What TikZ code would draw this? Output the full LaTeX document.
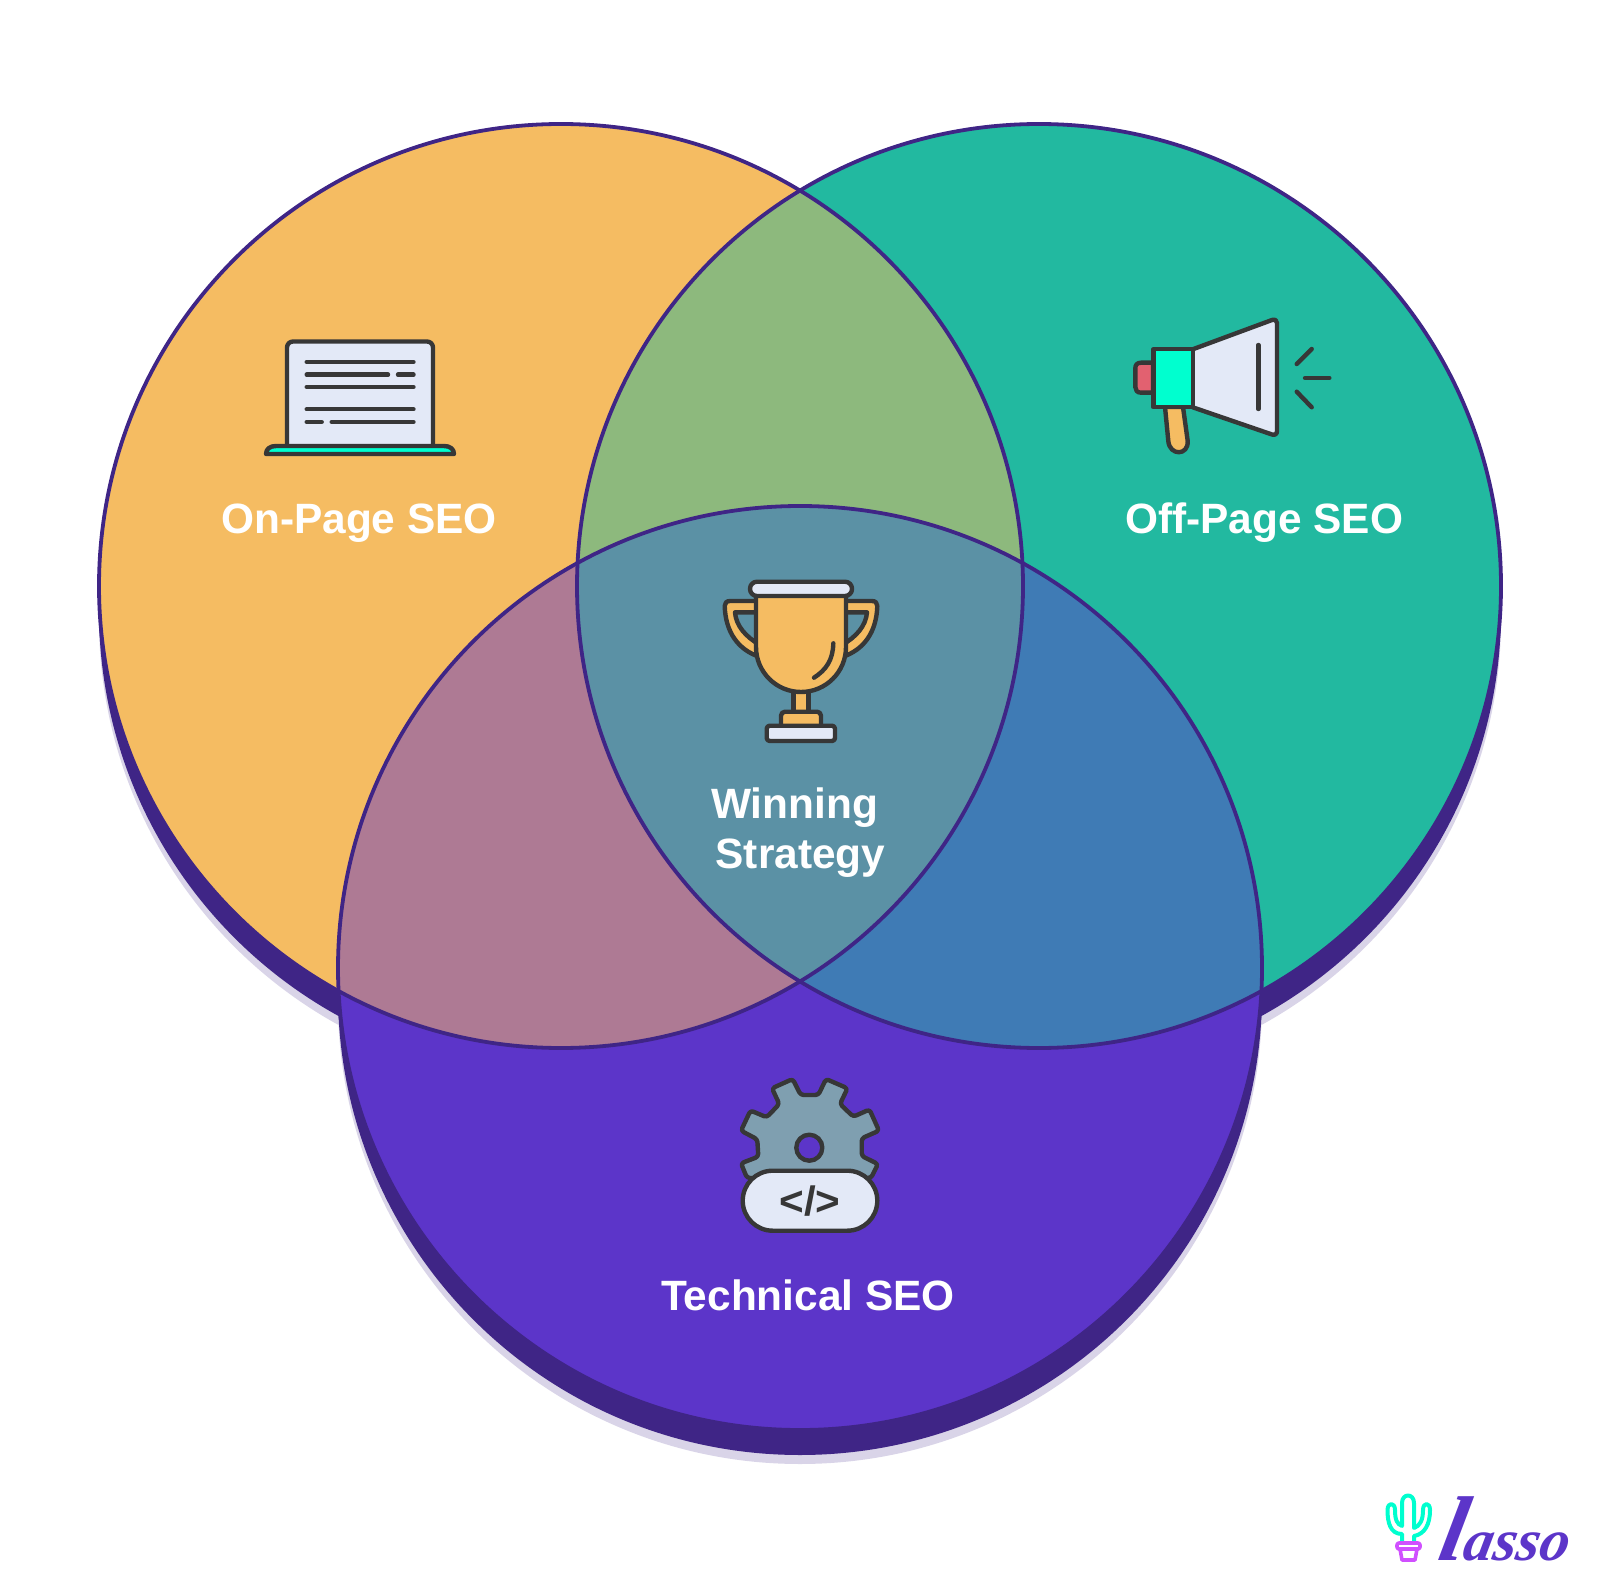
\documentclass[tikz,border=0pt]{standalone}
\usepackage{fontspec}
\setmainfont{Liberation Sans}
\newfontfamily\logofont{Liberation Serif}
\definecolor{cOrange}{HTML}{F5BC62}
\definecolor{cTeal}{HTML}{22B9A0}
\definecolor{cPurple}{HTML}{5C35C9}
\definecolor{cDark}{HTML}{3F2586}
\definecolor{cShadow}{HTML}{D9D4E8}
\definecolor{cLR}{HTML}{8DB97D}
\definecolor{cLB}{HTML}{AE7A94}
\definecolor{cRB}{HTML}{3F7BB5}
\definecolor{cMid}{HTML}{5B91A5}
\definecolor{cInk}{HTML}{373737}
\definecolor{cPale}{HTML}{E3E9F7}
\definecolor{cMint}{HTML}{00FFCF}
\definecolor{cRed}{HTML}{E26170}
\definecolor{cGear}{HTML}{7F9FB0}
\definecolor{cMagenta}{HTML}{D050FF}
\tikzset{
  ring/.style={draw=cDark,line width=1.9pt},
  icon/.style={draw=cInk,line width=2.2pt,line join=round,line cap=round},
  iconline/.style={draw=cInk,line width=2.2pt,line cap=round},
  label/.style={text=white,font=\fontsize{21.2}{25}\selectfont\bfseries,anchor=base,inner sep=0pt},
}
\newcommand{\rad}{231pt}
\begin{document}
\begin{tikzpicture}[x=0.5pt,y=-0.5pt]
\useasboundingbox (0,0) rectangle (1600,1588);
\coordinate (cL) at (561,586);
\coordinate (cR) at (1039,586);
\coordinate (cB) at (800,968);
% shadows
\foreach \c in {cL,cR,cB}{
  \fill[cShadow] ([yshift=-17pt]\c) circle[radius=\rad];
}
\foreach \c in {cL,cR,cB}{
  \fill[cDark] ([yshift=-12.5pt]\c) circle[radius=\rad];
}
% discs
\fill[cOrange] (cL) circle[radius=\rad];
\fill[cTeal] (cR) circle[radius=\rad];
\fill[cPurple] (cB) circle[radius=\rad];
% overlaps
\begin{scope}\clip (cL) circle[radius=\rad];\fill[cLR] (cR) circle[radius=\rad];\end{scope}
\begin{scope}\clip (cL) circle[radius=\rad];\fill[cLB] (cB) circle[radius=\rad];\end{scope}
\begin{scope}\clip (cR) circle[radius=\rad];\fill[cRB] (cB) circle[radius=\rad];\end{scope}
\begin{scope}\clip (cL) circle[radius=\rad];\clip (cR) circle[radius=\rad];\fill[cMid] (cB) circle[radius=\rad];\end{scope}
\draw[ring] (cL) circle[radius=\rad];
\draw[ring] (cR) circle[radius=\rad];
\draw[ring] (cB) circle[radius=\rad];
% laptop
\draw[icon,fill=cPale,rounded corners=3pt] (287,447) -- (287,341.5) -- (433,341.5) -- (433,447);
\foreach \a/\b/\y in {306.7/413.5/362,306.7/388/374.7,398/413.5/374.7,306.7/413.5/387,306.7/413.5/409.3,306.7/321.7/422,331.7/413.5/422}{
  \draw[iconline] (\a,\y) -- (\b,\y);
}
\draw[icon,fill=cMint] (266,454) .. controls (266,449) and (270,446) .. (276,446) -- (444,446) .. controls (450,446) and (454,449) .. (454,454) -- cycle;
% megaphone
\draw[icon,fill=cOrange] (1165,407) -- (1168.3,441) .. controls (1169.5,456) and (1188.5,456) .. (1187.7,441) -- (1183,407) -- cycle;
\draw[icon,fill=cRed] (1153,392.7) -- (1141,392.7) .. controls (1137,392.7) and (1135.3,390) .. (1135.3,387) -- (1135.3,368.5) .. controls (1135.3,365) and (1137,362.7) .. (1141,362.7) -- (1153,362.7) -- cycle;
\draw[icon,fill=cPale] (1192.7,349.3) -- (1272,320) .. controls (1275,319) and (1277,320.5) .. (1277,323) -- (1277,431) .. controls (1277,434) and (1275,435.5) .. (1272,434.5) -- (1192.7,407.3) -- cycle;
\draw[icon,fill=cMint] (1153.3,349.3) rectangle (1192.7,407.3);
\draw[iconline] (1258.3,345) -- (1258.3,409);
\draw[iconline] (1296.7,364) -- (1311.7,349);
\draw[iconline] (1305,378) -- (1329.3,378);
\draw[iconline] (1296.7,391.7) -- (1311.7,407.3);
% trophy
\draw[icon,fill=cOrange] (760,601) -- (730,601) .. controls (726.5,601) and (724.7,603) .. (724.7,606) .. controls (725.5,632) and (738,650) .. (760,657) -- (760,645) .. controls (746,637) and (736,626) .. (735,612.3) -- (760,612.3) -- cycle;
\draw[icon,fill=cOrange] (842,601) -- (872,601) .. controls (875.5,601) and (877.3,603) .. (877.3,606) .. controls (876.5,632) and (864,650) .. (842,657) -- (842,645) .. controls (856,637) and (866,626) .. (867,612.3) -- (842,612.3) -- cycle;
\draw[icon,fill=cOrange] (793.3,685) rectangle (808.3,715);
\draw[icon,fill=cOrange,rounded corners=2pt] (781,726) -- (781,711.7) -- (821,711.7) -- (821,726);
\draw[icon,fill=cPale,rounded corners=1.5pt] (766.7,725.7) rectangle (835,741);
\draw[icon,fill=cOrange] (756,592) -- (756,647) arc[start angle=180,end angle=360,x radius=22.5pt,y radius=22.5pt] -- (846,592) -- cycle;
\draw[icon,fill=cPale,rounded corners=3.5pt] (750,581.7) rectangle (852,596);
\draw[iconline] (833.3,643.3) .. controls (833,660) and (826,670) .. (814,677.7);
% gear
\draw[icon,fill=cGear,rounded corners=1.5pt] (747,1178) -- (741,1163.3) -- (758.3,1156.7) -- (757.3,1139.3) -- (741,1130.7) -- (750.5,1110.5) -- (766.7,1117.3) -- (779.3,1104) -- (772,1088.3) -- (792.7,1079) -- (800.7,1095) -- (818.3,1095) -- (826,1079) -- (847.5,1088.3) -- (840,1104) -- (853.3,1116.7) -- (869.5,1109.5) -- (879,1130.7) -- (861.7,1138.3) -- (861.7,1156) -- (878,1164) -- (871,1178) -- cycle;
\draw[icon,fill=cPurple] (809.3,1147.7) circle[radius=6.5pt];
\draw[icon,fill=cPale,rounded corners=15pt] (742.7,1170.7) rectangle (877.3,1230.7);
\node[text=cInk,font=\fontsize{20.5}{24}\selectfont\bfseries,inner sep=0pt,xscale=1.03] (code) at (810,1201) {</>};
% labels
\node[label] (onpage) at (359,534) {On-Page SEO};
\node[label] (offpage) at (1264,534) {Off-Page SEO};
\node[label] (winning) at (794.5,818) {Winning};
\node[label] (strategy) at (800.5,868) {Strategy};
\node[label] (technical) at (808,1310) {Technical SEO};
% logo
\draw[draw=cMint,line width=2pt,line join=round,line cap=round] (1402,1542) -- (1402,1534) .. controls (1390,1534) and (1387.5,1522) .. (1387.5,1510) .. controls (1387.5,1502) and (1395,1502) .. (1395,1510) .. controls (1395,1520) and (1397,1524) .. (1402,1526) -- (1402,1503) .. controls (1402,1493) and (1414,1493) .. (1414,1503) -- (1414,1528) .. controls (1420,1526) and (1423,1520) .. (1423,1510) .. controls (1423,1502) and (1430,1502) .. (1430,1510) .. controls (1430,1524) and (1425,1534) .. (1414,1536) -- (1414,1542);
\draw[draw=cMagenta,line width=1.8pt,line join=round] (1400,1549) -- (1402,1560) -- (1415,1560) -- (1417,1549);
\draw[draw=cMagenta,line width=1.8pt,line join=round,rounded corners=1pt] (1397,1543) rectangle (1420,1549);
\node[text=cPurple,font=\logofont\bfseries\itshape\fontsize{29.5}{34}\selectfont,anchor=base west,inner sep=0pt,xslant=0.2] (lasso) at (1436,1560) {{\fontsize{46}{46}\selectfont l}asso};
\end{tikzpicture}
\end{document}
